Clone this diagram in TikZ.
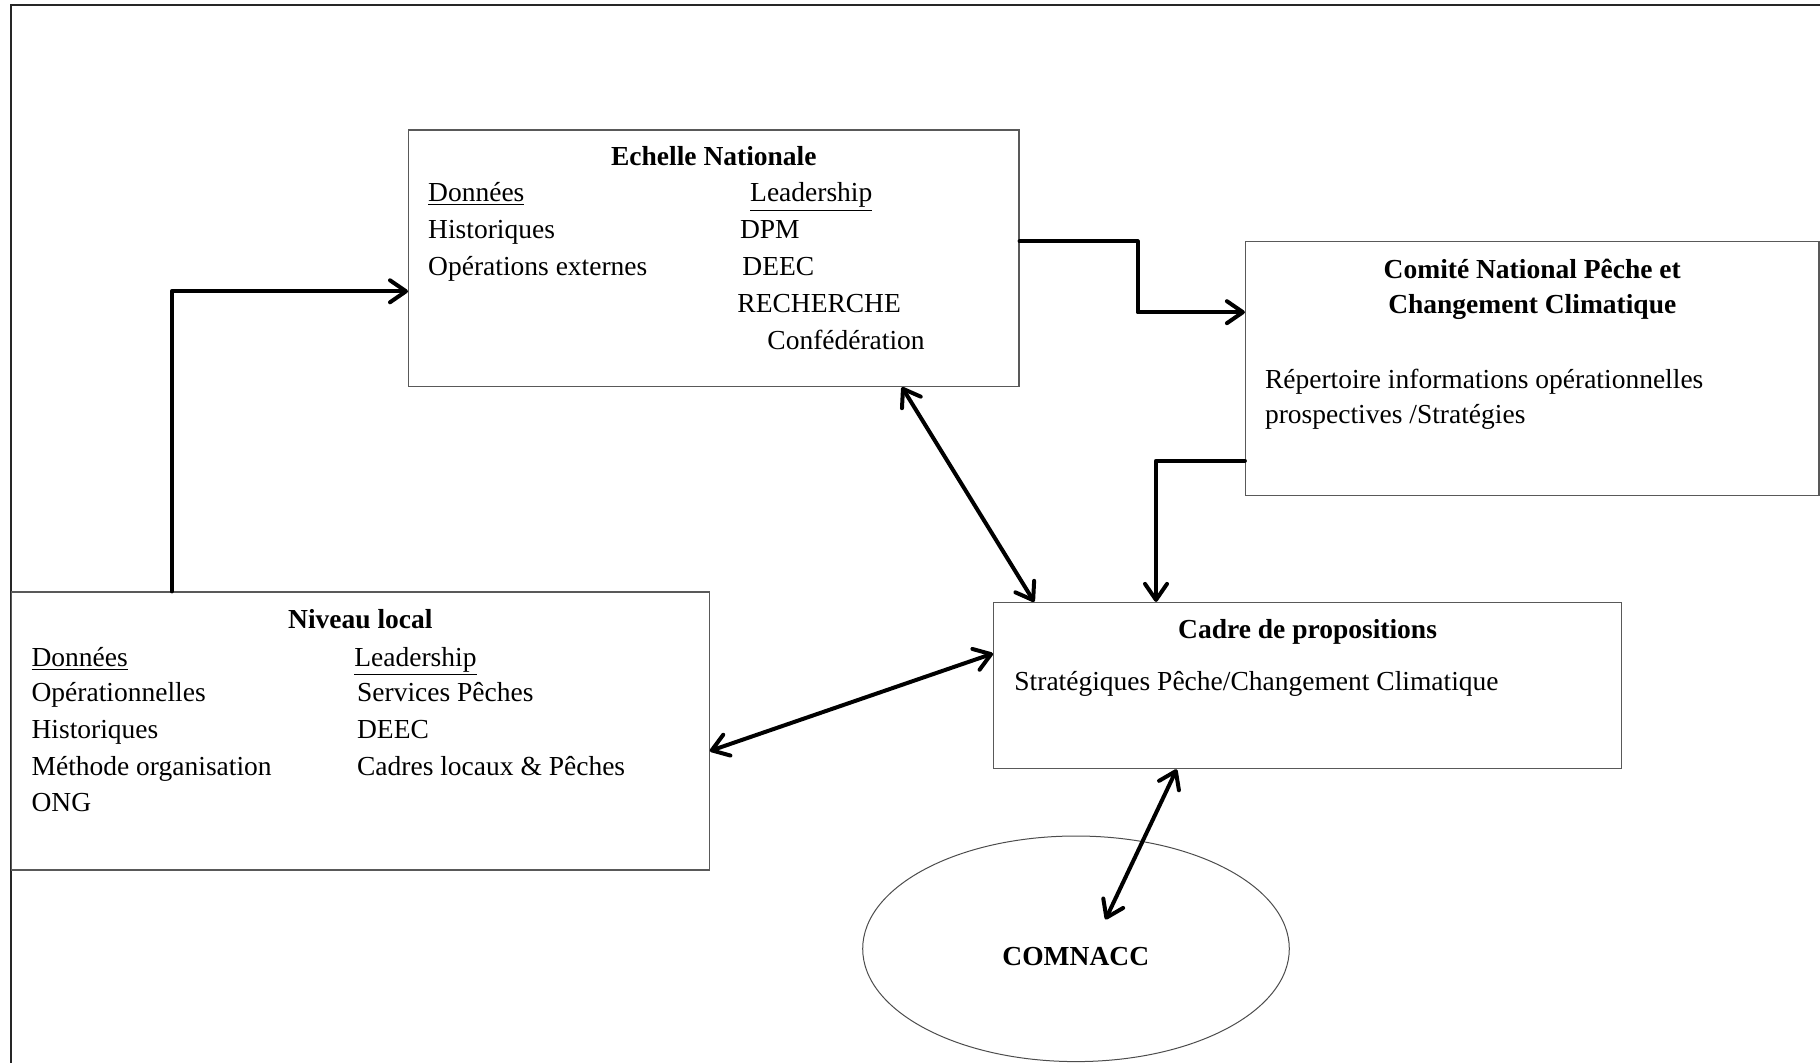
\documentclass[tikz,border=0pt]{standalone}
\usepackage{fontspec}
\setmainfont{Liberation Serif}
\usetikzlibrary{arrows.meta,shapes.geometric}
\tikzset{
  box/.style={draw=black!65, line width=0.6pt, rectangle, inner sep=0pt},
  txt/.style={anchor=base west, inner sep=0pt, font=\fontsize{13.75}{18.5}\selectfont},
  ttl/.style={anchor=base, inner sep=0pt, font=\fontsize{13.75}{18.5}\selectfont\bfseries},
  arr/.style={line width=2pt, line cap=round, line join=round},
  tip/.tip={Straight Barb[length=8pt, width=11pt, line width=2pt, round]},
}
\begin{document}
\begin{tikzpicture}[x=0.5pt, y=-0.5pt]
\useasboundingbox (0,0) rectangle (1820,1063);
% outer frame (left and top only visible)
\coordinate (fbl) at (11,1063);
\coordinate (ftl) at (11,5);
\coordinate (ftr) at (1820,5);
\draw[line width=0.9pt, black!85] (fbl) -- (ftl) -- (ftr);

% boxes
\node[box, minimum width=305.2pt, minimum height=128.25pt] (ech) at (713.8,258.25) {};
\node[box, minimum width=286.75pt, minimum height=127.05pt] (com) at (1532.25,368.55) {};
\node[box, minimum width=348.8pt, minimum height=139pt] (loc) at (360.4,731) {};
\node[box, minimum width=314pt, minimum height=83.1pt] (cad) at (1307.6,685.6) {};
\node[draw=black!70, line width=0.5pt, ellipse, inner sep=0pt, minimum width=213.3pt, minimum height=112.8pt] (comn) at (1076,948.8) {};

% Echelle Nationale
\node[ttl] (e0) at (713.8,165.7) {Echelle Nationale};
\node[txt] (e1) at (427.8,201.7) {\underline{Données}};
\node[txt] (e2) at (749.8,201.7) {\underline{Leadership}};
\node[txt] (e3) at (427.8,239) {Historiques};
\node[txt] (e4) at (739.6,239) {DPM};
\node[txt] (e5) at (427.8,275.7) {Opérations externes};
\node[txt] (e6) at (742,275.7) {DEEC};
\node[txt] (e7) at (737,313) {RECHERCHE};
\node[txt] (e8) at (767,350) {Confédération};

% Comite
\node[ttl] (c0) at (1532.25,278.3) {Comité National Pêche et};
\node[ttl] (c1) at (1532.25,313.3) {Changement Climatique};
\node[txt] (c2) at (1264.6,388.3) {Répertoire informations opérationnelles};
\node[txt] (c3) at (1264.6,423.3) {prospectives /Stratégies};

% Niveau local
\node[ttl] (l0) at (360.4,628.3) {Niveau local};
\node[txt] (l1) at (31.2,666) {\underline{Données}};
\node[txt] (l2) at (354,666) {\underline{Leadership}};
\node[txt] (l3) at (31.2,701.7) {Opérationnelles};
\node[txt] (l4) at (356.7,701.7) {Services Pêches};
\node[txt] (l5) at (31.2,738) {Historiques};
\node[txt] (l6) at (356.7,738) {DEEC};
\node[txt] (l7) at (31.2,775) {Méthode organisation};
\node[txt] (l8) at (356.7,775) {Cadres locaux \& Pêches};
\node[txt] (l9) at (31.2,811) {ONG};

% Cadre de propositions
\node[ttl] (p0) at (1307.6,638.3) {Cadre de propositions};
\node[txt] (p1) at (1014,690) {Stratégiques Pêche/Changement Climatique};

% COMNACC
\node[ttl] (n0) at (1075.8,965) {COMNACC};

% connectors
\coordinate (k1) at (171.8,291.3);
\draw[arr, -tip] (k1 |- loc.north) -- (k1) -- (k1 -| ech.west);

\coordinate (k2) at (1137.5,241.4);
\coordinate (k2b) at (1137.5,312.2);
\draw[arr, -tip] (k2 -| ech.east) -- (k2) -- (k2b) -- (k2b -| com.west);

\coordinate (k3) at (1156,460.8);
\draw[arr, -tip] (k3 -| com.west) -- (k3) -- (k3 |- cad.north);

\coordinate (k4a) at (901.9,0);
\coordinate (k4b) at (1034.2,0);
\draw[arr, tip-tip] (k4a |- ech.south) -- (k4b |- cad.north);

\coordinate (k5a) at (0,751);
\coordinate (k5b) at (0,653.5);
\draw[arr, tip-tip] (k5a -| loc.east) -- (k5b -| cad.west);

\coordinate (k6a) at (1176.7,0);
\coordinate (k6b) at (1105.5,919.5);
\draw[arr, tip-tip] (k6a |- cad.south) -- (k6b);
\end{tikzpicture}
\end{document}
